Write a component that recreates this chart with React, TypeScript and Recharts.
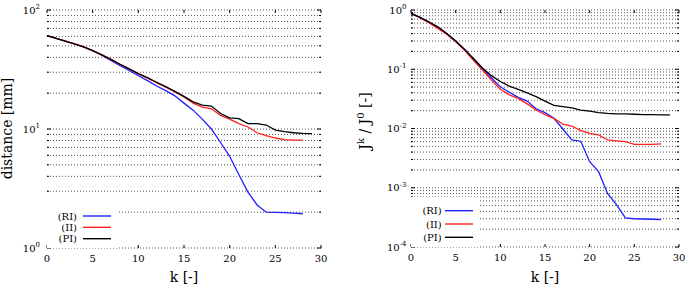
import { LineChart, Line, XAxis, YAxis, ReferenceLine, Legend } from 'recharts';

// iteration index k
const kValues = [0, 1, 2, 3, 4, 5, 6, 7, 8, 9, 10, 11, 12, 13, 14, 15, 16, 17, 18, 19, 20, 21, 22, 23, 24, 25, 26, 27, 28, 29];

// left panel: distance [mm]
const distRI = [61, 57.8, 54.8, 52, 49, 45.5, 41.7, 37.7, 34, 31, 28, 25.5, 23, 21, 19, 16.5, 14.4, 12.1, 10.0, 7.7, 5.9, 4.15, 2.95, 2.3, 2.0, 1.99, 1.98, 1.96, 1.94];
const distII = [61, 57.8, 54.8, 52, 49, 45.5, 42, 38.5, 35, 32, 29, 26.7, 24.5, 22.5, 20.5, 18.6, 16.5, 15.3, 14.8, 13.0, 12.1, 11.1, 10.4, 9.3, 8.8, 8.4, 8.15, 8.05, 8.05];
const distPI = [61, 57.8, 54.8, 52, 49, 45.5, 42, 38.5, 35, 32, 29.2, 27, 24.7, 22.7, 20.7, 18.8, 16.9, 15.9, 15.6, 13.5, 12.4, 12.2, 11.1, 11.1, 10.8, 9.8, 9.5, 9.3, 9.2, 9.14];

// right panel: J^k / J^0
const jRI = [0.88, 0.75, 0.62, 0.51, 0.40, 0.30, 0.215, 0.147, 0.101, 0.072, 0.0505, 0.041, 0.0335, 0.029, 0.0215, 0.0185, 0.0149, 0.0098, 0.0064, 0.0061, 0.00275, 0.00187, 0.0008, 0.00052, 0.00031, 0.0003, 0.000297, 0.000294, 0.00029];
const jII = [0.88, 0.74, 0.61, 0.49, 0.39, 0.29, 0.21, 0.14, 0.097, 0.066, 0.046, 0.037, 0.0323, 0.026, 0.0205, 0.0172, 0.0148, 0.0118, 0.011, 0.0092, 0.0083, 0.0078, 0.0064, 0.0062, 0.006, 0.0054, 0.0054, 0.0054, 0.0055];
const jPI = [0.88, 0.75, 0.63, 0.52, 0.40, 0.30, 0.215, 0.152, 0.105, 0.078, 0.062, 0.052, 0.0458, 0.040, 0.0344, 0.029, 0.0246, 0.0234, 0.0223, 0.0205, 0.0197, 0.0185, 0.018, 0.0177, 0.0176, 0.0174, 0.0171, 0.0171, 0.017, 0.017];

const seriesNames = ['(RI)', '(II)', '(PI)'];
const seriesColors = ['#1f1fff', '#ff1f1f', '#000000'];

const xTicks = [0, 5, 10, 15, 20, 25, 30];
const leftDecades = [0, 1, 2];
const rightDecades = [-4, -3, -2, -1, 0];

const FONT = '"DejaVu Serif", serif';

// 1..9 x 10^e for every decade, plus the top decade
function logGrid(exps: number[]) {
  const out: number[] = [];
  for (let i = 0; i < exps.length - 1; i++) {
    for (let m = 1; m < 10; m++) out.push(m * Math.pow(10, exps[i]));
  }
  out.push(Math.pow(10, exps[exps.length - 1]));
  return out;
}

const leftGrid = logGrid(leftDecades);
const rightGrid = logGrid(rightDecades);

const leftData = kValues.map((k, i) => ({ k, ri: distRI[i], ii: distII[i], pi: distPI[i] }));
const rightData = kValues.map((k, i) => ({ k, ri: jRI[i], ii: jII[i], pi: jPI[i] }));

function isDecade(v: number) {
  const e = Math.log10(v);
  return Math.abs(e - Math.round(e)) < 1e-6;
}

function XTickBottom(props: any) {
  const { x, y, payload } = props;
  return (
    <g>
      <line x1={x} x2={x} y1={y} y2={y - 3} stroke="#000" />
      <text x={x} y={y + 13.5} textAnchor="middle" fontSize={10} fontFamily={FONT} fill="#000">{payload.value}</text>
    </g>
  );
}

function XTickTop(props: any) {
  const { x, y } = props;
  return <line x1={x} x2={x} y1={y} y2={y + 3} stroke="#000" />;
}

function makeYTickLeft(gap: number) {
  return (props: any) => {
    const { x, y, payload } = props;
    const v = payload.value;
    const major = isDecade(v);
    return (
      <g>
        <line x1={x} x2={x + (major ? 4 : 2)} y1={y} y2={y} stroke="#000" />
        {major && (
          <text x={x - gap} y={y + 3.5} textAnchor="end" fontSize={10} fontFamily={FONT} fill="#000">
            10<tspan dy={-4.5} fontSize={7}>{Math.round(Math.log10(v))}</tspan>
          </text>
        )}
      </g>
    );
  };
}

function YTickRight(props: any) {
  const { x, y, payload } = props;
  const major = isDecade(payload.value);
  return <line x1={x} x2={x - (major ? 4 : 2)} y1={y} y2={y} stroke="#000" />;
}

function makeLegend(box: { w: number; h: number; rows: number[]; textEnd: number; l0: number; l1: number }) {
  return (props: any) => {
    // keep the plotting order RI, II, PI
    const items = [...(props.payload || [])].sort(
      (a: any, b: any) => seriesNames.indexOf(a.value) - seriesNames.indexOf(b.value)
    );
    return (
      <svg width={box.w} height={box.h} style={{ display: 'block' }}>
        {items.map((it: any, i: number) => (
          <g key={i}>
            <text x={box.textEnd} y={box.rows[i] + 3.5} textAnchor="end" fontSize={10} fontFamily={FONT} fill="#000">{it.value}</text>
            <line x1={box.l0} x2={box.l1} y1={box.rows[i]} y2={box.rows[i]} stroke={it.color} strokeWidth={1.4} />
          </g>
        ))}
      </svg>
    );
  };
}

const gridLine = { stroke: '#555', strokeDasharray: '1 2', strokeWidth: 1 };

function XTitle(props: any) {
  const vb = props.viewBox || { x: 0, width: 0 };
  return (
    <text x={vb.x + vb.width / 2} y={282} textAnchor="middle" fontSize={14} fontFamily={FONT} fill="#000">k [-]</text>
  );
}

function LeftYTitle() {
  return (
    <text x={11.5} y={128.5} transform="rotate(-90 11.5 128.5)" textAnchor="middle" fontSize={14} fontFamily={FONT} fill="#000">distance [mm]</text>
  );
}

function RightYTitle() {
  return (
    <text x={30} y={121} transform="rotate(-90 30 121)" textAnchor="middle" fontSize={14} fontFamily={FONT} fill="#000">
      J<tspan dy={-6} fontSize={10}>k</tspan>
      <tspan dy={6}> / J</tspan>
      <tspan dy={-6} fontSize={10}>0</tspan>
      <tspan dy={6}> [-]</tspan>
    </text>
  );
}

function Panel(props: {
  data: any[];
  width: number;
  yWidth: number;
  right: number;
  xHeight: number;
  domain: [number, number];
  grid: number[];
  gap: number;
  yTitle: any;
  legendStyle: any;
  legendBox: any;
}) {
  const { data, width, yWidth, right, xHeight, domain, grid, gap, yTitle, legendStyle, legendBox } = props;
  return (
    <LineChart width={width} height={286} data={data} margin={{ top: 9, right, bottom: 0, left: 0 }}>
      <XAxis dataKey="k" type="number" domain={[0, 30]} ticks={xTicks} interval={0} height={xHeight}
        tickSize={0} tickMargin={0} axisLine={false} tickLine={false} tick={<XTickBottom />} label={<XTitle />} />
      <XAxis xAxisId="top" orientation="top" dataKey="k" type="number" domain={[0, 30]} ticks={xTicks} interval={0} height={1}
        tickSize={0} tickMargin={0} axisLine={false} tickLine={false} tick={<XTickTop />} />
      <YAxis type="number" scale="log" domain={domain} allowDataOverflow ticks={grid} interval={0} width={yWidth}
        tickSize={0} tickMargin={0} axisLine={false} tickLine={false} tick={makeYTickLeft(gap)} label={yTitle} />
      <YAxis yAxisId="r" orientation="right" type="number" scale="log" domain={domain} allowDataOverflow ticks={grid} interval={0} width={1}
        tickSize={0} tickMargin={0} axisLine={false} tickLine={false} tick={<YTickRight />} />
      {grid.map((v) => (
        <ReferenceLine key={v} y={v} {...gridLine} ifOverflow="visible" />
      ))}
      <Line dataKey="ri" name={seriesNames[0]} stroke={seriesColors[0]} strokeWidth={1.3} dot={false} isAnimationActive={false} />
      <Line dataKey="ii" name={seriesNames[1]} stroke={seriesColors[1]} strokeWidth={1.3} dot={false} isAnimationActive={false} />
      <Line dataKey="pi" name={seriesNames[2]} stroke={seriesColors[2]} strokeWidth={1.3} dot={false} isAnimationActive={false} />
      <Legend layout="vertical" align="center" verticalAlign="middle" wrapperStyle={legendStyle} content={makeLegend(legendBox)} />
    </LineChart>
  );
}

export default function App() {
  return (
    <div style={{ position: 'absolute', left: 0, top: 0, width: 685, height: 286, display: 'flex', background: '#fff' }}>
      <Panel data={leftData} width={340} yWidth={47} right={18} xHeight={38} domain={[1, 100]} grid={leftGrid} gap={7}
        yTitle={<LeftYTitle />}
        legendStyle={{ left: 47, top: 205, width: 71, height: 43, background: '#fff', margin: 0, padding: 0 }}
        legendBox={{ w: 71, h: 43, rows: [11, 22.3, 33.7], textEnd: 30, l0: 36, l1: 64 }} />
      <Panel data={rightData} width={345} yWidth={71} right={5} xHeight={39} domain={[0.0001, 1]} grid={rightGrid} gap={4.5}
        yTitle={<RightYTitle />}
        legendStyle={{ left: 71, top: 197, width: 67, height: 50, background: '#fff', margin: 0, padding: 0 }}
        legendBox={{ w: 67, h: 50, rows: [13.7, 27, 40.3], textEnd: 30.7, l0: 34, l1: 62 }} />
    </div>
  );
}
